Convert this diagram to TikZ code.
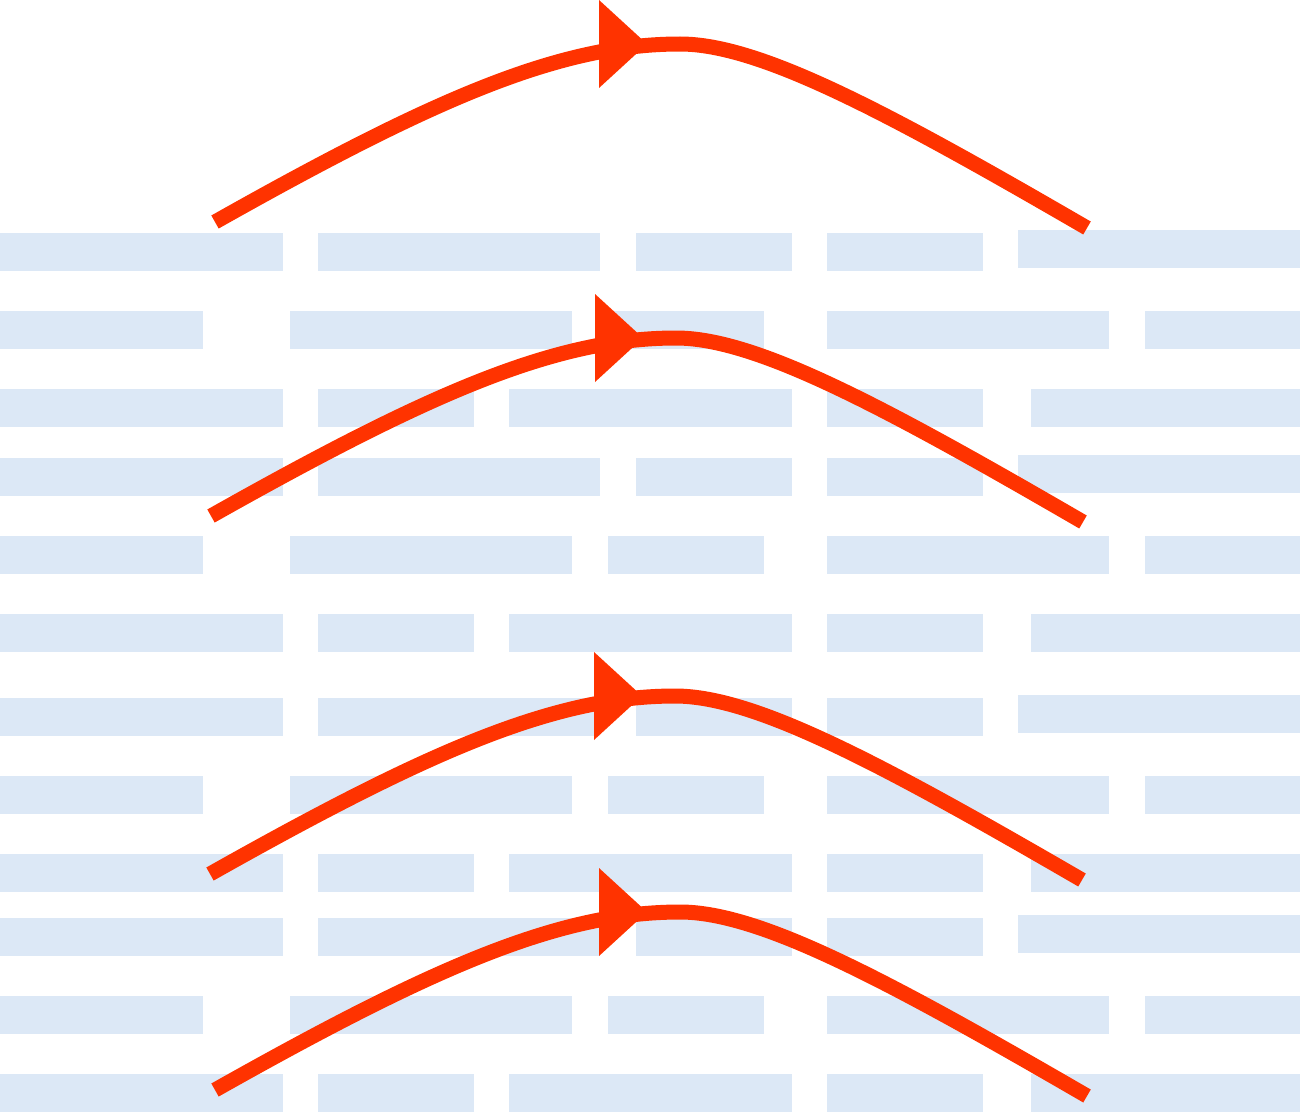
\documentclass[tikz,border=0pt]{standalone}
\definecolor{barblue}{RGB}{220,232,246}
\definecolor{arcred}{RGB}{255,51,0}
\begin{document}
\begin{tikzpicture}[x=1pt,y=-1pt,
  bar/.style={fill=barblue,draw=none},
  arcline/.style={draw=arcred,line width=15pt},
  arrowhead/.style={fill=arcred,draw=none}]
\useasboundingbox (0,0) rectangle (1300,1113);
% pattern A rows
\foreach \t in {233,458,698,918}{
  \foreach \a/\b in {0/283,318/600,636/792,827/983}{\fill[bar] (\a,\t) rectangle (\b,\t+37.5);}
  \fill[bar] (1018,\t-3) rectangle (1300,\t+34.5);
}
% pattern B rows
\foreach \t in {311,536,776,996}{
  \foreach \a/\b in {0/203,290/572,608/764,827/1109,1145/1300}{\fill[bar] (\a,\t) rectangle (\b,\t+37.5);}
}
% pattern C rows
\foreach \t in {389,614,854,1074}{
  \foreach \a/\b in {0/283,318/474,509/792,827/983,1031/1300}{\fill[bar] (\a,\t) rectangle (\b,\t+37.5);}
}
% arcs
\foreach \dx/\dy [count=\i] in {0/0,-4/294,-5/652,0/868}{
  \begin{scope}[shift={(\dx,\dy)}]
    \coordinate (s\i) at (215,222);
    \coordinate (p\i) at (680,44);
    \coordinate (e\i) at (1087,228);
    \draw[arcline] (s\i) .. controls (435,98) and (560,44) .. (p\i)
                         .. controls (760,44) and (887,112) .. (e\i);
    \fill[arrowhead] (599,0) -- (599,88) -- (647,44) -- cycle;
  \end{scope}
}
\end{tikzpicture}
\end{document}
